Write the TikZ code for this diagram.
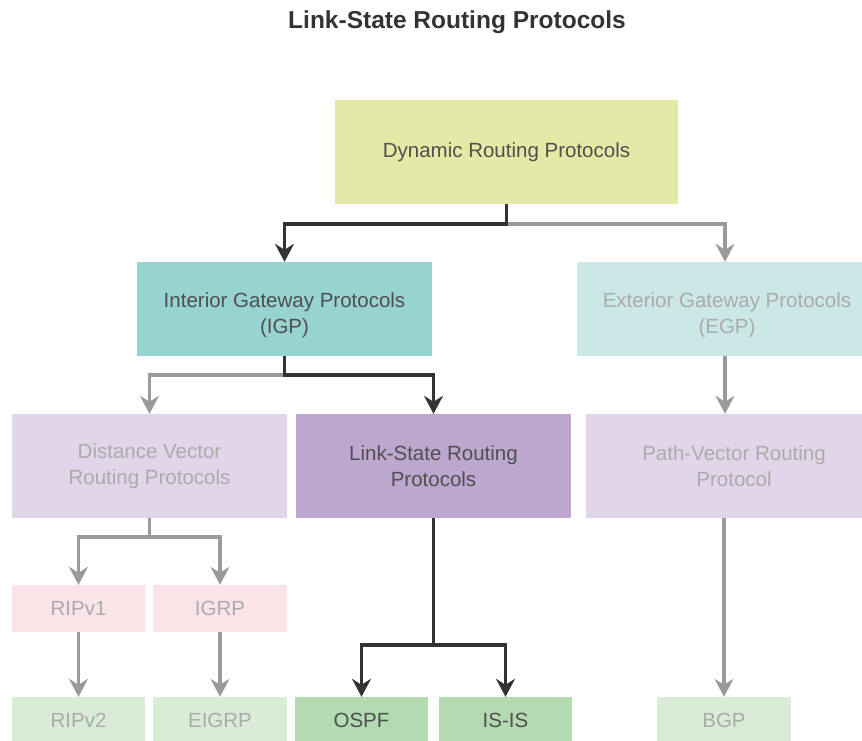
\documentclass[tikz,border=0pt]{standalone}
\usepackage{fontspec}
\setmainfont{Liberation Sans}
\usetikzlibrary{arrows.meta}
\definecolor{darkline}{HTML}{333333}
\definecolor{grayline}{HTML}{9A9A9A}
\definecolor{darktext}{HTML}{4F4F4F}
\definecolor{lighttext}{HTML}{ABABAB}
\definecolor{dynfill}{HTML}{E4EAA6}
\definecolor{igpfill}{HTML}{97D3D1}
\definecolor{egpfill}{HTML}{CBE8E7}
\definecolor{dvfill}{HTML}{E2D5E9}
\definecolor{lsfill}{HTML}{BEA7CF}
\definecolor{ripfill}{HTML}{FAE4E8}
\definecolor{paleg}{HTML}{D8ECD6}
\definecolor{strongg}{HTML}{B3DAB0}
\tikzset{
  box/.style={rectangle, inner sep=0pt, align=center, font=\fontsize{20.5}{25.5}\selectfont},
  on/.style={text=darktext},
  off/.style={text=lighttext},
  darkarrow/.style={draw=darkline, line width=3.6pt, -{Stealth[length=18pt,width=19pt,inset=6pt]}},
  grayarrow/.style={draw=grayline, line width=3.6pt, -{Stealth[length=18pt,width=19pt,inset=6pt]}},
}
\begin{document}
\begin{tikzpicture}[x=1pt,y=-1pt]
\useasboundingbox (0,0) rectangle (862,740);
\clip (0,0) rectangle (862,740);
\node[font=\fontsize{24.5}{28}\selectfont\bfseries, text=darkline] (title) at (457,22) {Link-State Routing Protocols};

\node[box,on,fill=dynfill,minimum width=343pt,minimum height=104pt] (dyn) at (506.5,152) {Dynamic Routing Protocols};
\node[box,fill=igpfill,minimum width=295pt,minimum height=94pt] (igp) at (284.5,309) {};
\node[box,on] (igptext) at (284.5,315) {Interior Gateway Protocols\\(IGP)};
\node[box,fill=egpfill,minimum width=296pt,minimum height=94pt] (egp) at (725,309) {};
\node[box,off] (egptext) at (727,315) {Exterior Gateway Protocols\\(EGP)};
\node[box,off,fill=dvfill,minimum width=275pt,minimum height=104pt] (dv) at (149.5,466) {Distance Vector\\Routing Protocols};
\node[box,on,fill=lsfill,minimum width=275pt,minimum height=104pt] (ls) at (433.5,466) {Link-State Routing\\Protocols};
\node[box,off,fill=dvfill,minimum width=296pt,minimum height=104pt] (pv) at (734,466) {Path-Vector Routing\\Protocol};

\node[box,off,fill=ripfill,minimum width=133pt,minimum height=47pt] (rip1) at (78.5,608.5) {RIPv1};
\node[box,off,fill=ripfill,minimum width=134pt,minimum height=47pt] (igrp) at (220,608.5) {IGRP};
\node[box,off,fill=paleg,minimum width=133pt,minimum height=47pt] (rip2) at (78.5,720.5) {RIPv2};
\node[box,off,fill=paleg,minimum width=134pt,minimum height=47pt] (eigrp) at (220,720.5) {EIGRP};
\node[box,on,fill=strongg,minimum width=133pt,minimum height=47pt] (ospf) at (361.5,720.5) {OSPF};
\node[box,on,fill=strongg,minimum width=133pt,minimum height=47pt] (isis) at (505.5,720.5) {IS-IS};
\node[box,off,fill=paleg,minimum width=134pt,minimum height=47pt] (bgp) at (724,720.5) {BGP};

% gray connectors
\draw[grayarrow] (dyn.south) -- ++(0,20) -| (egp.north);
\draw[grayarrow] (igp.south) -- ++(0,19) -| (dv.north);
\draw[grayarrow] (egp.south) -- (egp.south |- pv.north);
\draw[grayarrow] (dv.south) -- ++(0,19) -| (rip1.north);
\draw[grayarrow] (dv.south) -- ++(0,19) -| (igrp.north);
\draw[grayarrow] (rip1.south) -- (rip2.north);
\draw[grayarrow] (igrp.south) -- (eigrp.north);
\draw[grayarrow] (pv.south -| bgp.north) -- (bgp.north);
% dark connectors
\draw[darkarrow] (dyn.south) -- ++(0,20) -| (igp.north);
\draw[darkarrow] (igp.south) -- ++(0,19) -| (ls.north);
\draw[darkarrow] (ls.south) -- ++(0,127) -| (ospf.north);
\draw[darkarrow] (ls.south) -- ++(0,127) -| (isis.north);
\end{tikzpicture}
\end{document}
